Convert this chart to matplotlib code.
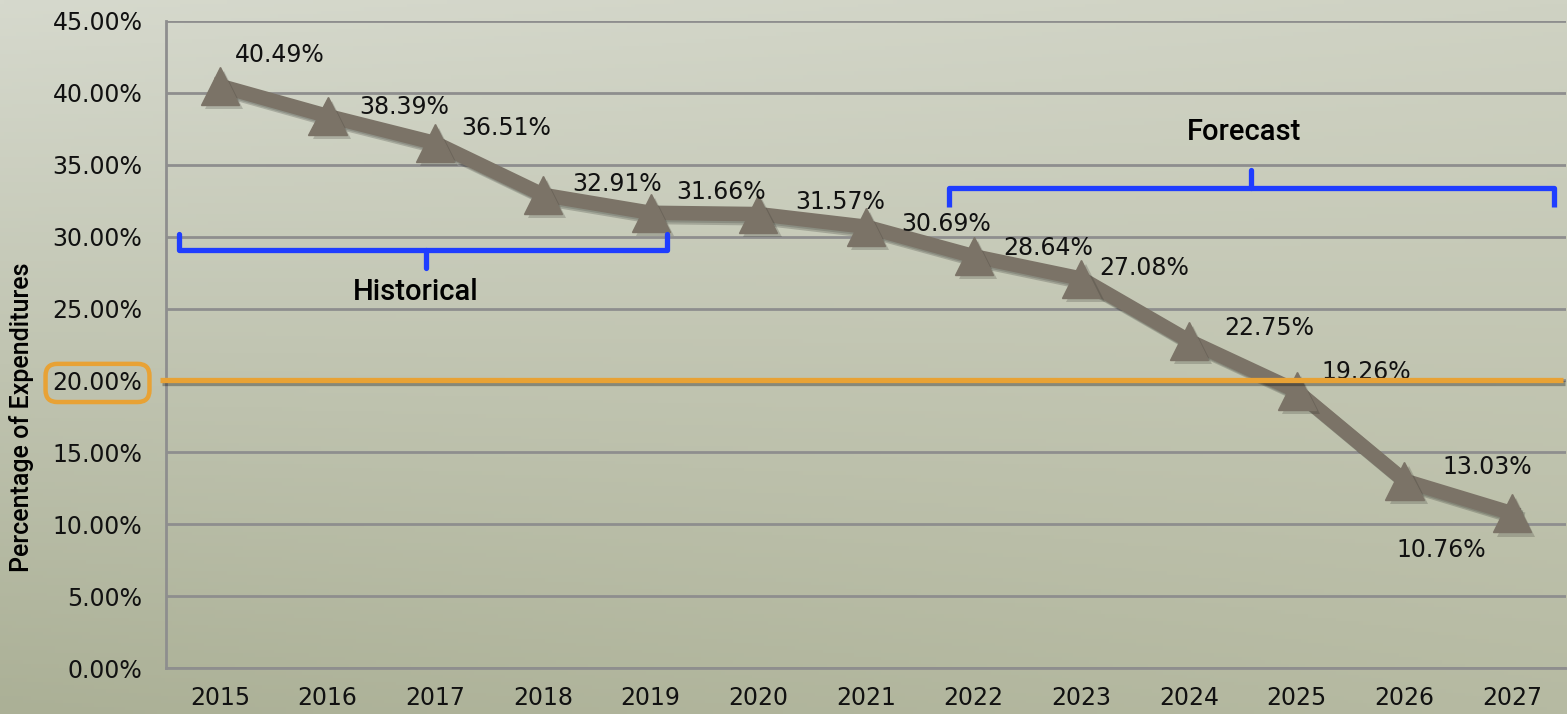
import numpy as np
import matplotlib
matplotlib.use("Agg")
import matplotlib.pyplot as plt
import matplotlib.patheffects as pe
from matplotlib.ticker import FixedLocator

# ---------------- data ----------------
years = ["2015", "2016", "2017", "2018", "2019", "2020", "2021",
         "2022", "2023", "2024", "2025", "2026", "2027"]
values = [40.49, 38.39, 36.51, 32.91, 31.66, 31.57, 30.69,
          28.64, 27.08, 22.75, 19.26, 13.03, 10.76]
value_labels = ["40.49%", "38.39%", "36.51%", "32.91%", "31.66%", "31.57%",
                "30.69%", "28.64%", "27.08%", "22.75%", "19.26%", "13.03%",
                "10.76%"]
threshold = 20.0
yticks = [0, 5, 10, 15, 20, 25, 30, 35, 40, 45]
ytick_labels = ["0.00%", "5.00%", "10.00%", "15.00%", "20.00%", "25.00%",
                "30.00%", "35.00%", "40.00%", "45.00%"]
y_label = "Percentage of Expenditures"
hist_label = "Historical"
fore_label = "Forecast"

# label offsets (pixels) relative to the points -- style only
label_offsets = [(60, 31), (77, 9), (71, 15), (74, 11), (70, 21), (82, 12),
                 (80, 3), (74, 8), (63, 11), (80, 13), (69, 19), (83, 14),
                 (-71, -37)]

# ---------------- figure ----------------
W, H = 1567, 714
fig = plt.figure(figsize=(W / 100, H / 100), dpi=100)

# background gradient
bg = fig.add_axes([0, 0, 1, 1], zorder=-10)
tl = np.array([214, 217, 205]) / 255
tr = np.array([207, 210, 195]) / 255
bl = np.array([171, 176, 150]) / 255
br = np.array([182, 186, 162]) / 255
yy, xx = np.mgrid[0:1:200j, 0:1:400j]
img = (tl[None, None] * ((1 - xx) * (1 - yy))[..., None]
       + tr[None, None] * (xx * (1 - yy))[..., None]
       + bl[None, None] * ((1 - xx) * yy)[..., None]
       + br[None, None] * (xx * yy)[..., None])
bg.imshow(img, aspect="auto", extent=[0, 1, 0, 1], origin="upper")
bg.set_axis_off()

ax = fig.add_axes([166 / W, 1 - 668 / H, 1400 / W, (668 - 21) / H])
ax.patch.set_alpha(0)

x = np.arange(len(years))
grid_col = "#8e8e8e"

ax.set_xlim(-0.5, len(years) - 0.5)
ax.set_ylim(0, 45)
ax.yaxis.set_major_locator(FixedLocator(yticks))
ax.set_yticklabels(ytick_labels)
ax.set_xticks(x)
ax.set_xticklabels(years)
ax.tick_params(axis="both", length=0, labelsize=17, colors="#111111")
ax.tick_params(axis="y", pad=17)
ax.tick_params(axis="x", pad=13)
ax.grid(axis="y", color=grid_col, lw=2)
ax.set_axisbelow(True)
for s in ["top", "right"]:
    ax.spines[s].set_visible(False)
for s in ["left", "bottom"]:
    ax.spines[s].set_color(grid_col)
    ax.spines[s].set_linewidth(2)

ax.set_ylabel(y_label, fontsize=18, family="Roboto", fontweight="medium")
ax.yaxis.set_label_coords(-0.103, 0.388)
ax.yaxis.label.set_va("center")

# main line
line_col = "#7b7367"
soft = [pe.SimpleLineShadow(offset=(3, -3), shadow_color="k", alpha=0.18),
        pe.SimpleLineShadow(offset=(1.5, -1.5), shadow_color="k", alpha=0.15),
        pe.Normal()]
ax.plot(x, values, color=line_col, lw=10.5, solid_joinstyle="miter",
        zorder=3, path_effects=soft)
ax.plot(x, values, ls="none", marker="^", ms=27.5, color=line_col,
        markeredgecolor=line_col, zorder=4,
        path_effects=[pe.SimplePatchShadow(offset=(3, -3), alpha=0.2),
                      pe.Normal()])

for xi, v, lab, (dx, dy) in zip(x, values, value_labels, label_offsets):
    ax.annotate(lab, (xi, v), xytext=(dx, dy), textcoords="offset pixels",
                ha="center", va="center", fontsize=17, color="#111111",
                zorder=5)

# threshold line
orange = "#e8a235"
ax.plot([-0.004, 0.998], [threshold, threshold], color=orange, lw=3.8,
        transform=ax.get_yaxis_transform(), clip_on=False, zorder=6,
        solid_capstyle="butt",
        path_effects=[pe.SimpleLineShadow(offset=(1.5, -1.5), alpha=0.3),
                      pe.Normal()])
for t in ax.get_yticklabels():
    if t.get_text() == "20.00%":
        t.set_bbox(dict(boxstyle="round,pad=0.3,rounding_size=0.5",
                        fc="none", ec=orange, lw=3.2))

# braces
blue = "#1f3dff"
hx0, hx1, hxc = -0.378, 4.153, 1.915
ax.plot([hx0, hx0, hx1, hx1], [30.18, 29.07, 29.07, 30.18], color=blue,
        lw=3.8, solid_joinstyle="round", solid_capstyle="round", zorder=6)
ax.plot([hxc, hxc], [29.07, 27.82], color=blue, lw=3.8,
        solid_capstyle="round", zorder=6)
fx0, fx1, fxc = 6.77, 12.39, 9.575
ax.plot([fx0, fx0, fx1, fx1], [32.06, 33.38, 33.38, 32.06], color=blue,
        lw=3.8, solid_joinstyle="round", solid_capstyle="butt", zorder=6)
ax.plot([fxc, fxc], [33.38, 34.63], color=blue, lw=3.8,
        solid_capstyle="round", zorder=6)

ax.text(1.82, 26.15, hist_label, ha="center", va="center", fontsize=21,
        family="Roboto", fontweight="medium", zorder=6)
ax.text(9.51, 37.25, fore_label, ha="center", va="center", fontsize=21,
        family="Roboto", fontweight="medium", zorder=6)

fig.savefig("out.png", dpi=100)
